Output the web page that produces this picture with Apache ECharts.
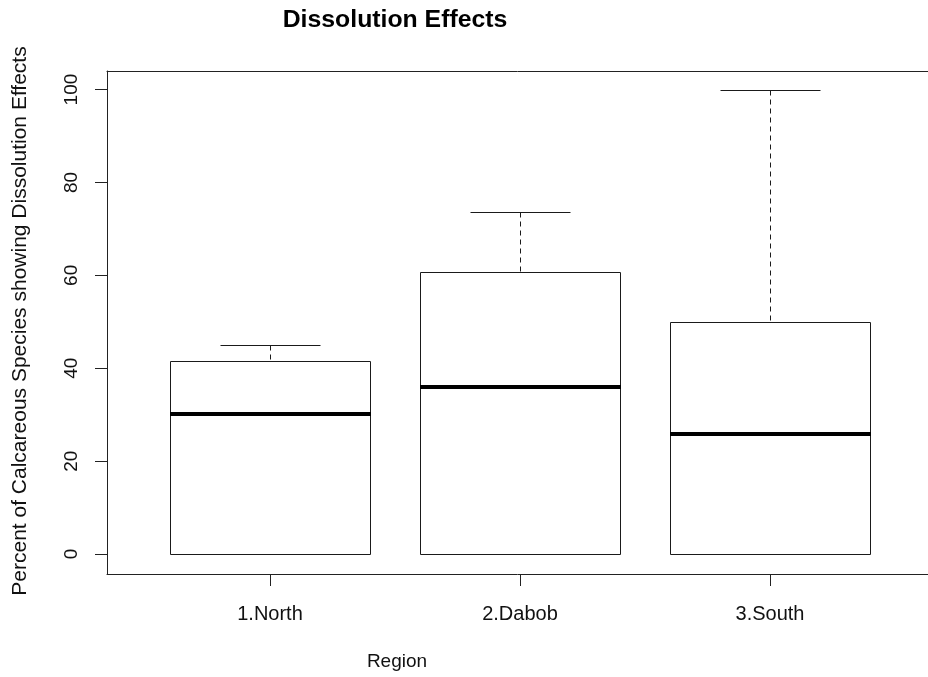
<!DOCTYPE html>
<html>
<head>
<meta charset="utf-8">
<script src="https://cdn.jsdelivr.net/npm/echarts@6/dist/echarts.min.js"></script>
<style>
html,body{margin:0;padding:0;background:#fff;}
#chart{width:928px;height:677px;}
</style>
</head>
<body>
<div id="chart"></div>
<script>
const categories = ['1.North', '2.Dabob', '3.South'];
const lowerWhisker = [0, 0, 0];
const lowerQuartile = [0, 0, 0];
const medians = [30.1, 36.0, 25.8];
const upperQuartile = [41.6, 60.8, 50.0];
const upperWhisker = [45.0, 73.6, 100];
const yTicks = [0, 20, 40, 60, 80, 100];
const xTicks = [1, 2, 3];

const chartTitle = 'Dissolution Effects';
const xTitle = 'Region';
const yTitle = 'Percent of Calcareous Species showing Dissolution Effects';

const FONT = '"Liberation Sans", Arial, sans-serif';
const boxData = categories.map((c, i) => [i + 1, lowerWhisker[i], lowerQuartile[i], medians[i], upperQuartile[i], upperWhisker[i]]);

const chart = echarts.init(document.getElementById('chart'), null, {renderer: 'canvas'});

function px(v) { return Math.round(v) + 0.5; }

function renderItem(params, api) {
  const x = api.value(0);
  const lo = api.value(1), q1 = api.value(2), med = api.value(3), q3 = api.value(4), hi = api.value(5);
  const boxHalf = 0.4, capHalf = 0.2;
  const pL = api.coord([x - boxHalf, q3]);
  const pR = api.coord([x + boxHalf, q1]);
  const pC = api.coord([x, med]);
  const cL = api.coord([x - capHalf, hi]);
  const cR = api.coord([x + capHalf, lo]);
  const yHi = api.coord([x, hi])[1];
  const yLo = api.coord([x, lo])[1];
  const yQ3 = pL[1], yQ1 = pR[1];
  const xc = px(pC[0]);
  const stroke = '#1a1a1a';
  return {
    type: 'group',
    children: [
      {type: 'line', shape: {x1: xc, y1: px(yHi), x2: xc, y2: px(yQ3)}, style: {stroke: stroke, lineWidth: 1, lineDash: [5, 4]}},
      {type: 'line', shape: {x1: xc, y1: px(yQ1), x2: xc, y2: px(yLo)}, style: {stroke: stroke, lineWidth: 1, lineDash: [5, 4]}},
      {type: 'line', shape: {x1: px(cL[0]), y1: px(yHi), x2: px(cR[0]), y2: px(yHi)}, style: {stroke: stroke, lineWidth: 1}},
      {type: 'line', shape: {x1: px(cL[0]), y1: px(yLo), x2: px(cR[0]), y2: px(yLo)}, style: {stroke: stroke, lineWidth: 1}},
      {type: 'rect', shape: {x: px(pL[0]), y: px(yQ3), width: Math.round(pR[0]) - Math.round(pL[0]), height: Math.round(yQ1) - Math.round(yQ3)}, style: {fill: '#fff', stroke: stroke, lineWidth: 1}},
      {type: 'line', shape: {x1: Math.round(pL[0]), y1: Math.round(pC[1]), x2: Math.round(pR[0]) + 1, y2: Math.round(pC[1])}, style: {stroke: '#000', lineWidth: 4}}
    ]
  };
}

const option = {
  backgroundColor: '#fff',
  animation: false,
  grid: {left: 107, top: 71, width: 821, height: 503, show: false},
  xAxis: [{
    type: 'value', min: 0.348, max: 3.632,
    position: 'bottom',
    splitLine: {show: false},
    axisLine: {show: true, onZero: false, lineStyle: {color: '#222', width: 1}},
    axisTick: {show: true, inside: false, length: 12, lineStyle: {color: '#222', width: 1}, customValues: xTicks},
    axisLabel: {show: true, customValues: xTicks, margin: 30, color: '#111', fontFamily: FONT, fontSize: 20,
      formatter: v => categories[Math.round(v) - 1] || ''}
  }, {
    type: 'value', min: 0.348, max: 3.632,
    position: 'top',
    splitLine: {show: false},
    axisLine: {show: true, onZero: false, lineStyle: {color: '#222', width: 1}},
    axisTick: {show: false},
    axisLabel: {show: false}
  }],
  yAxis: {
    type: 'value', min: -4.3, max: 104,
    position: 'left',
    splitLine: {show: false},
    axisLine: {show: true, onZero: false, lineStyle: {color: '#222', width: 1}},
    axisTick: {show: true, inside: false, length: 12, lineStyle: {color: '#222', width: 1}, customValues: yTicks},
    axisLabel: {show: true, customValues: yTicks, rotate: 90, margin: 26, color: '#111', fontFamily: FONT, fontSize: 19}
  },
  graphic: [
    {type: 'text', x: 395, y: 20, style: {text: chartTitle, font: 'bold 24.8px ' + FONT, fill: '#000', align: 'center', verticalAlign: 'middle'}},
    {type: 'text', x: 397, y: 662, style: {text: xTitle, font: '19px ' + FONT, fill: '#111', align: 'center', verticalAlign: 'middle'}},
    {type: 'text', x: 20, y: 321, rotation: Math.PI / 2, style: {text: yTitle, font: '21px ' + FONT, fill: '#111', align: 'center', verticalAlign: 'middle'}}
  ],
  series: [{
    type: 'custom',
    xAxisIndex: 0,
    renderItem: renderItem,
    data: boxData,
    encode: {x: 0, y: [1, 2, 3, 4, 5]},
    clip: false
  }]
};
chart.setOption(option);
</script>
</body>
</html>
